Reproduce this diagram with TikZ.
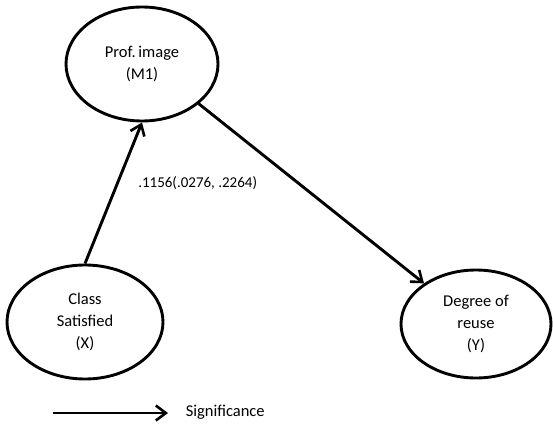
\documentclass[tikz,border=0pt]{standalone}
\usepackage{fontspec}
\setmainfont{Carlito}
\usetikzlibrary{arrows.meta,shapes.geometric}

\begin{document}
\begin{tikzpicture}[x=1pt,y=-1pt,line width=2.9pt,
		every node/.style={font=\fontsize{16.5}{22}\selectfont},
		var node/.style={ellipse,draw,inner sep=0pt,align=center},
		sig arrow/.style={-{Straight Barb[length=10pt,width=15pt,line width=2.6pt]}}]

	\useasboundingbox (0,0) rectangle (553,425);

	\node[var node,minimum width=152pt,minimum height=114pt] (prof) at (142,64) {Prof.\,image\\(M1)};
	\node[var node,minimum width=156pt,minimum height=114pt] (cls) at (85,322) {Class\\Satisfied\\(X)};
	\node[var node,minimum width=150pt,minimum height=108pt] (deg) at (476,324) {Degree of\\reuse\\(Y)};

	\path[sig arrow]
	(cls.north) edge node[pos=0.57,anchor=west,xshift=16pt,font=\fontsize{15}{18}\selectfont] (eff) {.1156(.0276, .2264)} (prof.south)
	(prof.-35) edge (deg.142);

	% legend
	\coordinate (legA) at (53,413);
	\coordinate (legB) at (168,413);
	\node[anchor=west] (sig) at (181,412) {Significance};
	\draw[sig arrow] (legA) -- (legB);
\end{tikzpicture}
\end{document}
